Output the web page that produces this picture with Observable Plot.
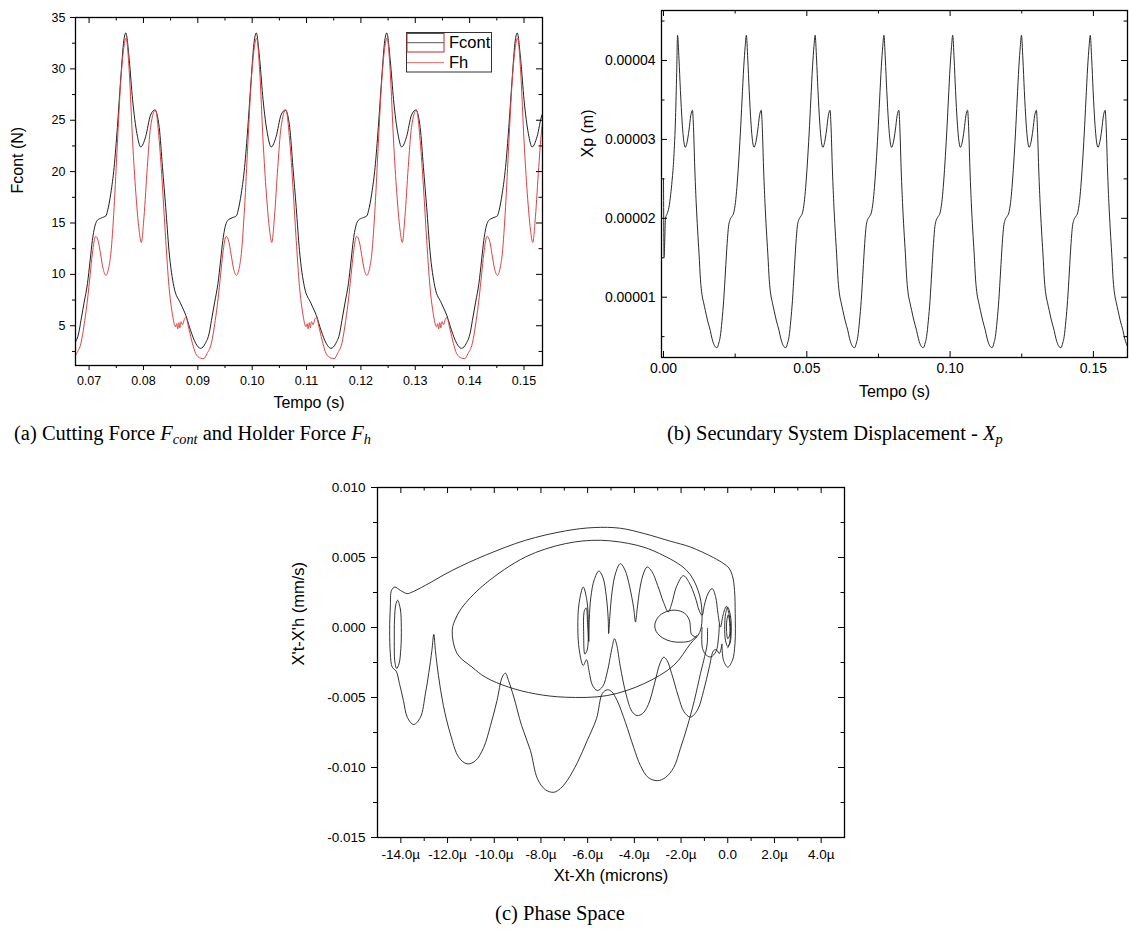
<!DOCTYPE html>
<html><head><meta charset="utf-8">
<script src="https://cdn.jsdelivr.net/npm/d3@7"></script>
<script src="https://cdn.jsdelivr.net/npm/@observablehq/plot@0.6"></script>
<style>
html,body{margin:0;padding:0;background:#fff;}
#page{position:relative;width:1129px;height:937px;overflow:hidden;background:#fff;}
.cap{position:absolute;font-family:'Liberation Serif','Times New Roman',serif;font-size:20.5px;line-height:1;color:#000;white-space:nowrap;}
.cap sub{font-size:70%;vertical-align:-0.3em;line-height:0;}
.legend{position:absolute;font-family:'Liberation Sans',Arial,sans-serif;}
</style></head>
<body><div id="page"></div>
<script>
// ---------------- Panel (a): forces (one period) ----------------
const forcePeriodStarts = [0.0665, 0.0905, 0.1145, 0.1385]; // times of each Fcont minimum (s)
const fcontPhase = [0, 0.0009, 0.0016, 0.0020, 0.0026, 0.0032, 0.0037, 0.0041, 0.0044, 0.0050, 0.0058, 0.0066, 0.0069, 0.0075, 0.0081, 0.0087, 0.0093, 0.0099, 0.01025, 0.0109, 0.0115, 0.0123, 0.0130, 0.0139, 0.0148, 0.0156, 0.0164, 0.0170, 0.0176, 0.0182, 0.0191, 0.0203, 0.0213, 0.0222, 0.0231];
const fcontValue = [2.8, 3.3, 4.3, 5.5, 7.3, 9.1, 11.4, 13.3, 14.3, 15.25, 15.5, 15.7, 16.2, 17.9, 20.4, 24.3, 28.9, 32.8, 33.5, 30.8, 27.0, 23.7, 22.4, 23.4, 25.5, 26.0, 24.3, 20.4, 16.5, 12.3, 8.8, 7.2, 6.0, 4.5, 3.3];
const fhPhase = [0, 0.0006, 0.0012, 0.0020, 0.0027, 0.0032, 0.0037, 0.0041, 0.0047, 0.0052, 0.0056, 0.0061, 0.0066, 0.0071, 0.0075, 0.0081, 0.0087, 0.0093, 0.0099, 0.0103, 0.0109, 0.0115, 0.0121, 0.0127, 0.0131, 0.0136, 0.0142, 0.0148, 0.0157, 0.0164, 0.0170, 0.0176, 0.0182, 0.0188, 0.0194, 0.0196, 0.0198, 0.0200, 0.0202, 0.0204, 0.0207, 0.0210, 0.0213, 0.0219, 0.0225, 0.0231];
const fhValue = [1.85, 1.8, 2.3, 3.3, 5.5, 7.5, 10.0, 12.0, 13.7, 13.2, 12.0, 10.5, 9.9, 10.6, 12.0, 16.5, 22.7, 28.6, 32.1, 33.0, 29.6, 23.0, 17.9, 14.3, 13.1, 15.6, 20.4, 24.3, 26.0, 23.0, 18.5, 13.3, 8.8, 6.2, 4.9, 5.2, 4.7, 5.3, 4.8, 5.4, 5.1, 5.6, 5.8, 4.6, 3.3, 2.3];
const forceTimeTicks = [0.07, 0.08, 0.09, 0.10, 0.11, 0.12, 0.13, 0.14, 0.15];
const forceTimeMinor = [0.075, 0.085, 0.095, 0.105, 0.115, 0.125, 0.135, 0.145];
const forceTicks = [5, 10, 15, 20, 25, 30, 35];
const forceMinor = [2.5, 7.5, 12.5, 17.5, 22.5, 27.5, 32.5];
const forceSeries = ["Fcont", "Fh"];

// ---------------- Panel (b): secondary displacement Xp (units of 1e-5 m) ----------------
const xpStartTime = [0, 0.0002, 0.0007, 0.0013, 0.0019, 0.0025, 0.0030, 0.0036, 0.0042, 0.0046];
const xpStartValue = [2.5, 1.51, 2.0, 2.06, 2.14, 2.3, 2.48, 2.77, 3.28, 3.85];
const xpPeakTimes = [0.0049, 0.0289, 0.0529, 0.0769, 0.1009, 0.1249, 0.1489];
const xpPhase = [0, 0.0005, 0.0010, 0.0016, 0.0022, 0.0027, 0.0033, 0.0040, 0.0046, 0.0052, 0.0056, 0.0060, 0.0065, 0.0070, 0.0075, 0.0080, 0.0085, 0.0091, 0.0097, 0.0105, 0.0114, 0.0120, 0.0126, 0.0132, 0.0138, 0.0144, 0.0149, 0.0155, 0.0161, 0.0167, 0.0173, 0.0178, 0.0182, 0.0189, 0.0196, 0.0202, 0.0207, 0.0213, 0.0219, 0.0225, 0.0231, 0.0236];
const xpValue = [4.32, 4.02, 3.62, 3.22, 2.97, 2.90, 2.96, 3.12, 3.30, 3.37, 3.12, 2.65, 2.20, 1.85, 1.55, 1.22, 1.04, 0.93, 0.83, 0.70, 0.58, 0.48, 0.41, 0.37, 0.36, 0.42, 0.50, 0.70, 0.96, 1.32, 1.68, 1.90, 1.97, 2.02, 2.07, 2.20, 2.39, 2.70, 3.07, 3.50, 3.92, 4.18];
const xpTimeTicks = [0, 0.05, 0.10, 0.15];
const xpTimeMinor = [0.025, 0.075, 0.125];
const xpTicks = [0.00001, 0.00002, 0.00003, 0.00004];
const xpMinor = [0.000005, 0.000015, 0.000025, 0.000035, 0.000045];

// ---------------- Panel (c): phase space (x in microns, velocity in 1e-3 mm/s) ----------------
const phaseOuterPath = [[-0.87,-0.06],[-0.88,-1.16],[-1.03,-2.35],[-1.17,-3.30],[-1.43,-5.21],[-1.74,-7.12],[-2.03,-8.65],[-2.31,-9.99],[-2.67,-10.72],[-3.02,-10.94],[-3.40,-10.72],[-3.74,-9.86],[-4.03,-8.56],[-4.38,-6.79],[-4.74,-5.21],[-4.98,-4.57],[-5.16,-4.45],[-5.37,-4.71],[-5.62,-6.50],[-6.02,-8.08],[-6.44,-9.65],[-6.88,-10.94],[-7.17,-11.51],[-7.45,-11.77],[-7.81,-11.59],[-8.15,-10.80],[-8.45,-8.79],[-8.83,-7.00],[-9.16,-4.98],[-9.39,-3.78],[-9.52,-3.26],[-9.66,-3.55],[-9.88,-5.21],[-10.16,-7.00],[-10.45,-8.56],[-10.80,-9.51],[-11.16,-9.74],[-11.52,-9.27],[-11.88,-7.60],[-12.18,-5.57],[-12.39,-3.43],[-12.52,-1.64],[-12.59,-0.49],[-12.67,-1.64],[-12.80,-3.21],[-12.95,-4.74],[-13.16,-6.41],[-13.45,-6.93],[-13.72,-6.43],[-13.89,-5.21],[-14.06,-4.0],[-14.20,-3.12],[-14.37,-2.83],[-14.45,-1.87],[-14.48,-0.21],[-14.45,1.46],[-14.40,2.65],[-14.26,2.89],[-14.02,2.65],[-13.73,2.42],[-13.52,2.53],[-12.95,3.01],[-11.80,4.08],[-10.38,5.16],[-8.66,6.23],[-6.95,6.90],[-5.72,7.14],[-4.60,7.09],[-3.58,6.71],[-2.45,6.16],[-1.60,5.75],[-0.61,4.99],[-0.17,4.56],[0.05,4.25],[0.20,3.70],[0.29,2.65],[0.32,1.01],[0.31,-1.14],[0.20,-2.35],[0.0,-2.83],[-0.18,-2.35],[-0.25,-1.20]];
const phaseArchPath = [[-0.25,-1.20],[-0.36,-1.86],[-0.48,-1.6],[-0.60,-1.64],[-0.80,-2.9],[-1.03,-4.5],[-1.30,-5.9],[-1.60,-6.40],[-1.88,-6.0],[-2.12,-4.9],[-2.40,-3.3],[-2.60,-2.35],[-2.74,-2.12],[-2.90,-2.55],[-3.12,-3.9],[-3.40,-5.5],[-3.65,-6.15],[-3.88,-6.29],[-4.10,-6.0],[-4.35,-4.8],[-4.60,-2.8],[-4.76,-1.2],[-4.85,-0.80],[-4.95,-1.4],[-5.15,-3.1],[-5.35,-4.2],[-5.59,-4.50],[-5.80,-4.1],[-5.93,-3.2],[-6.05,-2.3],[-6.19,-2.71],[-6.36,-1.6],[-6.42,0.0],[-6.37,1.7],[-6.19,2.89],[-6.03,1.9],[-5.97,0.0],[-6.02,-1.6],[-6.12,-1.9],[-6.17,-0.5],[-6.14,1.2],[-6.06,1.4],[-6.0,0.2],[-5.95,-1.0],[-5.93,0.6],[-5.86,2.2],[-5.72,3.4],[-5.52,4.03],[-5.35,3.6],[-5.20,2.2],[-5.12,0.6],[-5.10,-0.44],[-5.05,0.8],[-4.95,2.6],[-4.80,3.9],[-4.60,4.56],[-4.40,4.1],[-4.20,2.9],[-4.03,1.4],[-3.95,0.39],[-3.88,1.3],[-3.75,2.9],[-3.60,3.9],[-3.45,4.32],[-3.25,4.0],[-3.00,3.0],[-2.75,1.8],[-2.55,1.12],[-2.40,1.7],[-2.20,2.9],[-1.90,3.70],[-1.65,3.2],[-1.40,2.2],[-1.22,1.2],[-1.10,0.87],[-1.00,1.6],[-0.85,2.4],[-0.67,2.78],[-0.52,2.2],[-0.42,1.0],[-0.31,0.03],[-0.20,0.9],[-0.06,1.51],[0.06,0.9],[0.12,0.0],[0.08,-1.1],[0.0,-1.45]];
const phaseLowerLoop = [[-1.10,0.0],[-1.08,-1.5],[-0.90,-2.0],[-0.72,-2.1],[-0.50,-1.7],[-0.40,-0.8],[-0.36,0.2]];
const phaseSmallLoop = [[-1.30,-0.55],[-1.60,-0.95],[-2.00,-1.05],[-2.40,-1.0],[-2.78,-0.75],[-3.06,-0.3],[-3.12,0.25],[-2.92,0.85],[-2.50,1.2],[-2.10,1.2],[-1.80,0.95],[-1.63,0.45],[-1.60,0.0],[-1.55,-0.5],[-1.35,-0.7]];
const phaseEgg = [[-11.80,-0.20],[-11.62,0.75],[-11.30,1.60],[-10.38,3.13],[-8.66,5.04],[-6.95,5.99],[-5.45,6.23],[-3.88,5.87],[-2.92,5.28],[-1.76,4.08],[-1.27,2.65],[-1.10,1.00],[-1.20,-0.35],[-1.60,-1.16],[-2.31,-2.70],[-3.60,-4.02],[-5.16,-4.86],[-6.95,-4.98],[-8.24,-4.74],[-9.38,-4.26],[-10.38,-3.55],[-10.95,-2.83],[-11.59,-1.87]];
const phaseLeftEllipse = [[-14.14,1.95],[-14.02,1.3],[-13.98,0.0],[-14.00,-1.5],[-14.08,-2.6],[-14.18,-2.93],[-14.26,-2.4],[-14.28,-1.0],[-14.27,0.6],[-14.22,1.6]];
const phaseRightEllipse = [[0.0,1.45],[0.12,0.8],[0.15,-0.2],[0.10,-1.1],[0.0,-1.35],[-0.10,-0.9],[-0.13,0.1],[-0.09,1.0]];
const phaseRightInner = [[0.02,0.9],[0.09,0.2],[0.07,-0.6],[0.0,-0.8],[-0.05,-0.3],[-0.04,0.5]];
const phaseXTicks = [-14, -12, -10, -8, -6, -4, -2, 0, 2, 4];
const phaseXMinor = [-13, -11, -9, -7, -5, -3, -1, 1, 3];
const phaseYTicks = [-0.015, -0.010, -0.005, 0, 0.005, 0.010];
const phaseYMinor = [-0.0125, -0.0075, -0.0025, 0.0025, 0.0075];

// ---------------- build tables ----------------
const fcontRows = forcePeriodStarts.flatMap(s => fcontPhase.map((p, i) => ({t: s + p, v: fcontValue[i]})));
const fhRows = forcePeriodStarts.flatMap(s => fhPhase.map((p, i) => ({t: s + p, v: fhValue[i]})));
const xpRows = xpStartTime.map((t, i) => ({t, v: xpStartValue[i] * 1e-5}))
  .concat(xpPeakTimes.flatMap(s => xpPhase.map((p, i) => ({t: s + p, v: xpValue[i] * 1e-5}))));
const toRows = (paths) => paths.flatMap((path, k) => path.map(([x, v]) => ({x, y: v / 1000, seg: k})));
const openRows = toRows([phaseOuterPath, phaseArchPath, phaseLowerLoop, phaseSmallLoop]);
const closedRows = toRows([phaseEgg, phaseLeftEllipse, phaseRightEllipse, phaseRightInner]);

const FONT = "'Liberation Sans', Arial, Helvetica, sans-serif";
const page = document.getElementById("page");

function frameTicks({innerW, innerH, xMajor, xMinor, yMajor, yMinor, leftOut, bottomOut, maj = 6, min = 3.5, outMaj = 5, outMin = 3}) {
  const s = {stroke: "#000", strokeWidth: 1};
  const m = [];
  m.push(Plot.tickX(xMajor, {x: d => d, insetBottom: innerH - maj, ...s}));
  m.push(Plot.tickX(xMinor, {x: d => d, insetBottom: innerH - min, ...s}));
  m.push(Plot.tickY(yMajor, {y: d => d, insetLeft: innerW - maj, ...s}));
  m.push(Plot.tickY(yMinor, {y: d => d, insetLeft: innerW - min, ...s}));
  if (bottomOut) {
    m.push(Plot.tickX(xMajor, {x: d => d, insetTop: innerH, insetBottom: -outMaj, ...s}));
    m.push(Plot.tickX(xMinor, {x: d => d, insetTop: innerH, insetBottom: -outMin, ...s}));
  } else {
    m.push(Plot.tickX(xMajor, {x: d => d, insetTop: innerH - maj, ...s}));
    m.push(Plot.tickX(xMinor, {x: d => d, insetTop: innerH - min, ...s}));
  }
  if (leftOut) {
    m.push(Plot.tickY(yMajor, {y: d => d, insetRight: innerW, insetLeft: -outMaj, ...s}));
    m.push(Plot.tickY(yMinor, {y: d => d, insetRight: innerW, insetLeft: -outMin, ...s}));
  } else {
    m.push(Plot.tickY(yMajor, {y: d => d, insetRight: innerW - maj, ...s}));
    m.push(Plot.tickY(yMinor, {y: d => d, insetRight: innerW - min, ...s}));
  }
  return m;
}

function place(svg, left, top) {
  svg.style.position = "absolute";
  svg.style.left = left + "px";
  svg.style.top = top + "px";
  page.appendChild(svg);
}

// ---------------- Panel (a) ----------------
{
  const W = 560, H = 420, ml = 75, mr = 18, mt = 17, mb = 55;
  const svg = Plot.plot({
    width: W, height: H, marginLeft: ml, marginRight: mr, marginTop: mt, marginBottom: mb,
    style: {fontFamily: FONT, fontSize: "12.5px", color: "#000", background: "transparent", overflow: "visible"},
    x: {domain: [0.0675, 0.1534], ticks: forceTimeTicks, tickFormat: d => d.toFixed(2), tickSize: 0, tickPadding: 11, label: null},
    y: {domain: [1.13, 35], ticks: forceTicks, tickFormat: d => String(d), tickSize: 0, tickPadding: 10, label: null},
    marks: [
      Plot.line(fcontRows, {x: "t", y: "v", stroke: "#1e1e1e", strokeWidth: 1, curve: "monotone-x", clip: true}),
      Plot.line(fhRows, {x: "t", y: "v", stroke: "#dc4244", strokeWidth: 1, curve: "monotone-x", clip: true}),
      Plot.frame({stroke: "#000", strokeWidth: 1.3}),
      ...frameTicks({innerW: W - ml - mr, innerH: H - mt - mb, xMajor: forceTimeTicks, xMinor: forceTimeMinor, yMajor: forceTicks, yMinor: forceMinor, leftOut: true, bottomOut: true}),
      Plot.text(["Fcont (N)"], {text: d => d, frameAnchor: "left", dx: -58, dy: 2, rotate: -90, fontSize: 16, fill: "#000"}),
      Plot.text(["Tempo (s)"], {text: d => d, frameAnchor: "bottom", dy: 42, fontSize: 16, fill: "#000"})
    ]
  });
  place(svg, 0, 0);
  const lg = document.createElement("div");
  lg.className = "legend";
  lg.style.left = "406px"; lg.style.top = "32px";
  lg.innerHTML = `<svg width="90" height="42" style="overflow:visible">
    <rect x="0.5" y="0.5" width="85" height="39.5" fill="#fff" stroke="#333" stroke-width="1"/>
    <rect x="1" y="1.5" width="37" height="18.5" fill="none" stroke="#c02828" stroke-width="1"/>
    <line x1="1" x2="38" y1="10.7" y2="10.7" stroke="#555" stroke-width="1"/>
    <line x1="1" x2="38" y1="30.7" y2="30.7" stroke="#e06464" stroke-width="1"/>
    <text x="43" y="10.7" dy="0.35em" font-size="16.5" fill="#000">${forceSeries[0]}</text>
    <text x="43" y="30.7" dy="0.35em" font-size="16.5" fill="#000">${forceSeries[1]}</text>
  </svg>`;
  page.appendChild(lg);
}

// ---------------- Panel (b) ----------------
{
  const W = 569, H = 420, ml = 101, mr = 2, mt = 10, mb = 63;
  const svg = Plot.plot({
    width: W, height: H, marginLeft: ml, marginRight: mr, marginTop: mt, marginBottom: mb,
    style: {fontFamily: FONT, fontSize: "14px", color: "#000", background: "transparent", overflow: "visible"},
    x: {domain: [-0.0007, 0.1619], ticks: xpTimeTicks, tickFormat: d => d.toFixed(2), tickSize: 0, tickPadding: 6, label: null},
    y: {domain: [2.36e-6, 4.634e-5], ticks: xpTicks, tickFormat: d => d.toFixed(5), tickSize: 0, tickPadding: 6, label: null},
    marks: [
      Plot.line(xpRows, {x: "t", y: "v", stroke: "#2a2a2a", strokeWidth: 1, curve: "monotone-x", clip: true}),
      Plot.frame({stroke: "#000", strokeWidth: 1.3}),
      ...frameTicks({innerW: W - ml - mr, innerH: H - mt - mb, xMajor: xpTimeTicks, xMinor: xpTimeMinor, yMajor: xpTicks, yMinor: xpMinor, leftOut: false, bottomOut: false}),
      Plot.text(["Xp (m)"], {text: d => d, frameAnchor: "left", dx: -74, dy: -26.5, rotate: -90, fontSize: 16, fill: "#000"}),
      Plot.text(["Tempo (s)"], {text: d => d, frameAnchor: "bottom", dy: 39, fontSize: 16, fill: "#000"})
    ]
  });
  place(svg, 560, 0);
}

// ---------------- Panel (c) ----------------
{
  const W = 600, H = 420, ml = 97, mr = 36, mt = 17, mb = 53;
  const svg = Plot.plot({
    width: W, height: H, marginLeft: ml, marginRight: mr, marginTop: mt, marginBottom: mb,
    style: {fontFamily: FONT, fontSize: "13.5px", color: "#000", background: "transparent", overflow: "visible"},
    x: {domain: [-15, 5], ticks: phaseXTicks, tickFormat: d => d === 0 ? "0.0" : d.toFixed(1) + "µ", tickSize: 0, tickPadding: 12, label: null},
    y: {domain: [-0.015, 0.010], ticks: phaseYTicks, tickFormat: d => d.toFixed(3), tickSize: 0, tickPadding: 12, label: null},
    marks: [
      Plot.line(openRows, {x: "x", y: "y", z: "seg", stroke: "#1e1e1e", strokeWidth: 0.9, curve: "catmull-rom"}),
      Plot.line(closedRows, {x: "x", y: "y", z: "seg", stroke: "#1e1e1e", strokeWidth: 0.9, curve: "catmull-rom-closed"}),
      Plot.frame({stroke: "#000", strokeWidth: 1.3}),
      ...frameTicks({innerW: W - ml - mr, innerH: H - mt - mb, xMajor: phaseXTicks, xMinor: phaseXMinor, yMajor: phaseYTicks, yMinor: phaseYMinor, leftOut: true, bottomOut: true, outMaj: 6, outMin: 4}),
      Plot.text(["X't-X'h (mm/s)"], {text: d => d, frameAnchor: "left", dx: -79, dy: 3, rotate: -90, fontSize: 16.5, fill: "#000"}),
      Plot.text(["Xt-Xh (microns)"], {text: d => d, frameAnchor: "bottom", dy: 43, fontSize: 16.5, fill: "#000"})
    ]
  });
  place(svg, 280, 470);
}

// ---------------- captions ----------------
function caption(html, left, top, extra) {
  const d = document.createElement("div");
  d.className = "cap";
  d.innerHTML = html;
  d.style.left = left + "px";
  d.style.top = top + "px";
  if (extra) Object.assign(d.style, extra);
  page.appendChild(d);
}
caption("(a) Cutting Force <i>F</i><sub><i>cont</i></sub> and Holder Force <i>F</i><sub><i>h</i></sub>", 14, 423);
caption("(b) Secundary System Displacement - <i>X</i><sub><i>p</i></sub>", 667, 423);
caption("(c) Phase Space", 400, 903, {width: "320px", textAlign: "center"});
</script></body></html>
